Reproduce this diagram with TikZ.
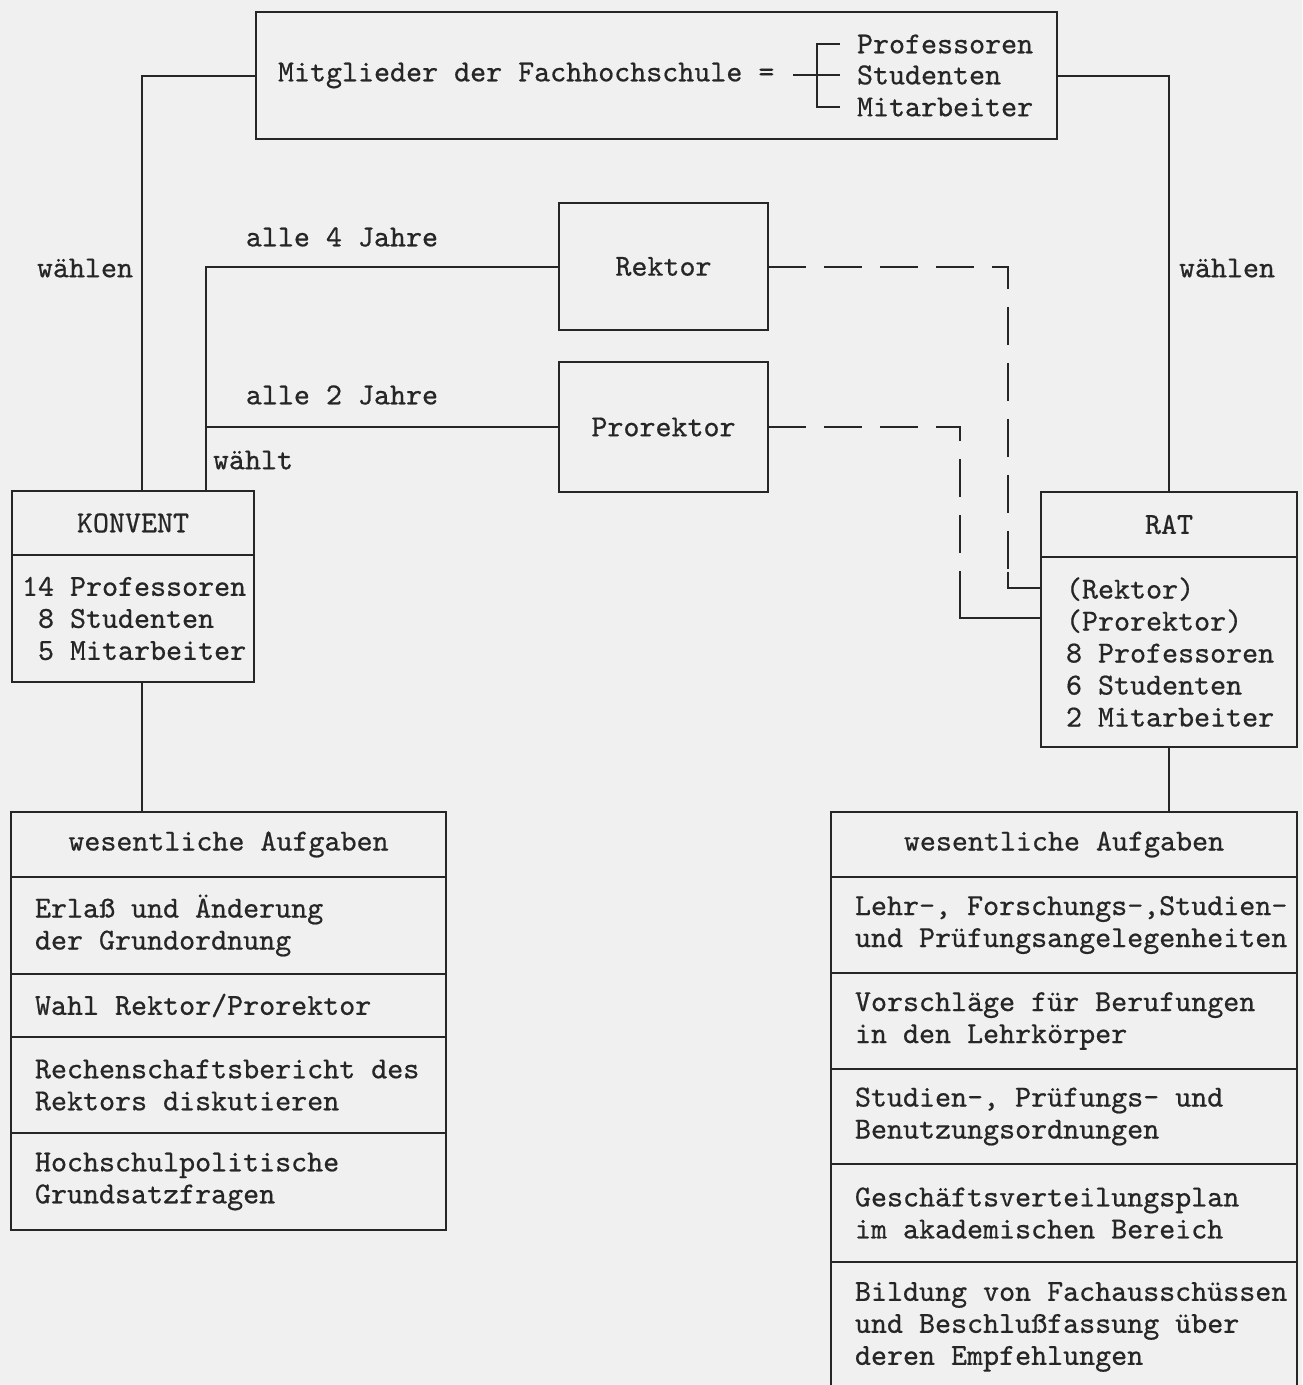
\documentclass[tikz,border=0pt]{standalone}
\usepackage{fontspec}
\setmonofont{lmmono10-regular}[Extension=.otf, FakeBold=0.6]
\usetikzlibrary{positioning}
\definecolor{papier}{gray}{0.94}
\definecolor{tinte}{gray}{0.15}
\tikzset{
  kasten/.style={draw=tinte, rectangle, inner sep=0pt, outer sep=0pt, anchor=north west},
  schrift/.style={inner sep=0pt, outer sep=0pt, align=left, text=tinte},
  gestrichelt/.style={dash pattern=on 38pt off 18pt},
}

\begin{document}
\begin{tikzpicture}
[x=1pt, y=-1pt, line width=2pt, color=tinte,
 every node/.style={font=\ttfamily\fontsize{30.5}{32}\selectfont}]
\path[use as bounding box, fill=papier] (0,0) rectangle (1302,1385);

% Mitglieder der Fachhochschule
  \node [kasten, minimum width=801pt, minimum height=127pt] (fh) at (256,12) {};
  \node [schrift, right=22pt of fh.west] (fhtext) {Mitglieder der Fachhochschule =};
  \node [schrift, anchor=west] (prof) at (857,44) {Professoren};
  \node [schrift, anchor=west] (stud) at (857,75) {Studenten};
  \node [schrift, anchor=west] (mitarb) at (857,107) {Mitarbeiter};
  \coordinate (kl) at (817,75);
  \draw ([xshift=19pt]fhtext.east |- kl) -- (kl);
  \draw (kl) -- ([xshift=-17pt]stud.west |- kl);
  \draw ([xshift=-17pt]prof.west) -| (kl |- mitarb.west) -- ([xshift=-17pt]mitarb.west);

% Rektor, Prorektor
  \node [kasten, minimum width=209pt, minimum height=127pt] (rektor) at (559,203) {Rektor};
  \node [kasten, minimum width=209pt, minimum height=130pt] (prorektor) at (559,362) {Prorektor};

% Konvent
  \node [kasten, minimum width=242pt, minimum height=64pt] (kontitle) at (12,491) {KONVENT};
  \node [kasten, minimum width=242pt, minimum height=127pt, below=0pt of kontitle] (konbody) {};
  \node [schrift, right=10pt of konbody.west] (konliste)
    {14 Professoren\\\phantom{1}8 Studenten\\\phantom{1}5 Mitarbeiter};

% Rat
  \node [kasten, minimum width=256pt, minimum height=65pt] (rattitle) at (1041,492) {RAT};
  \node [kasten, minimum width=256pt, minimum height=190pt, below=0pt of rattitle] (ratbody) {};
  \node [schrift, right=25pt of ratbody.west] (ratliste)
    {(Rektor)\\(Prorektor)\\8 Professoren\\6 Studenten\\2 Mitarbeiter};

% Aufgaben Konvent
  \node [kasten, minimum width=435pt, minimum height=65pt] (kaufg) at (11,812) {wesentliche Aufgaben};
  \node [kasten, minimum width=435pt, minimum height=97pt, below=0pt of kaufg] (k1) {};
  \node [kasten, minimum width=435pt, minimum height=63pt, below=0pt of k1] (k2) {};
  \node [kasten, minimum width=435pt, minimum height=96pt, below=0pt of k2] (k3) {};
  \node [kasten, minimum width=435pt, minimum height=97pt, below=0pt of k3] (k4) {};
  \foreach \n/\t in {k1/{Erlaß und Änderung\\der Grundordnung},
                     k2/{Wahl Rektor/Prorektor},
                     k3/{Rechenschaftsbericht des\\Rektors diskutieren},
                     k4/{Hochschulpolitische\\Grundsatzfragen}}
  \node [schrift, right=24pt of \n.west] (\n-text) {\t};

% Aufgaben Rat
  \node [kasten, minimum width=466pt, minimum height=65pt] (raufg) at (831,812) {wesentliche Aufgaben};
  \node [kasten, minimum width=466pt, minimum height=96pt, below=0pt of raufg] (r1) {};
  \node [kasten, minimum width=466pt, minimum height=96pt, below=0pt of r1] (r2) {};
  \node [kasten, minimum width=466pt, minimum height=95pt, below=0pt of r2] (r3) {};
  \node [kasten, minimum width=466pt, minimum height=98pt, below=0pt of r3] (r4) {};
  \node [kasten, minimum width=466pt, minimum height=130pt, below=0pt of r4] (r5) {};
  \foreach \n/\t in {r1/{Lehr-, Forschungs-,Studien-\\und Prüfungsangelegenheiten},
                     r2/{Vorschläge für Berufungen\\in den Lehrkörper},
                     r3/{Studien-, Prüfungs- und\\Benutzungsordnungen},
                     r4/{Geschäftsverteilungsplan\\im akademischen Bereich},
                     r5/{Bildung von Fachausschüssen\\und Beschlußfassung über\\deren Empfehlungen}}
  \node [schrift, right=24pt of \n.west] (\n-text) {\t};

% Beschriftungen
  \node [schrift] (wl) at (85,268) {wählen};
  \node [schrift] (a4) at (342,237) {alle 4 Jahre};
  \node [schrift] (a2) at (342,395) {alle 2 Jahre};
  \node [schrift] (wt) at (253,460) {wählt};
  \node [schrift] (wr) at (1227,268) {wählen};

% Verbindungen
  \coordinate (kw) at ([xshift=73pt]kontitle.north);
  \draw (fh.west) -| ([xshift=9pt]kontitle.north);
  \draw (rektor.west) -| (kw);
  \draw (prorektor.west) -- (prorektor.west -| kw);
  \draw (fh.east) -| (rattitle.north);
  \draw ([xshift=9pt]konbody.south) -- ([xshift=9pt]konbody.south |- kaufg.north);
  \draw (ratbody.south) -- (ratbody.south |- raufg.north);

  \coordinate (rk) at (1008,572);
  \coordinate (pk) at (960,600);
  \draw [gestrichelt] (rektor.east) -| (rk);
  \draw (rk) |- ([yshift=64pt]ratbody.west);
  \draw [gestrichelt] (prorektor.east) -| (pk);
  \draw (pk) |- ([yshift=34pt]ratbody.west);
\end{tikzpicture}
\end{document}
